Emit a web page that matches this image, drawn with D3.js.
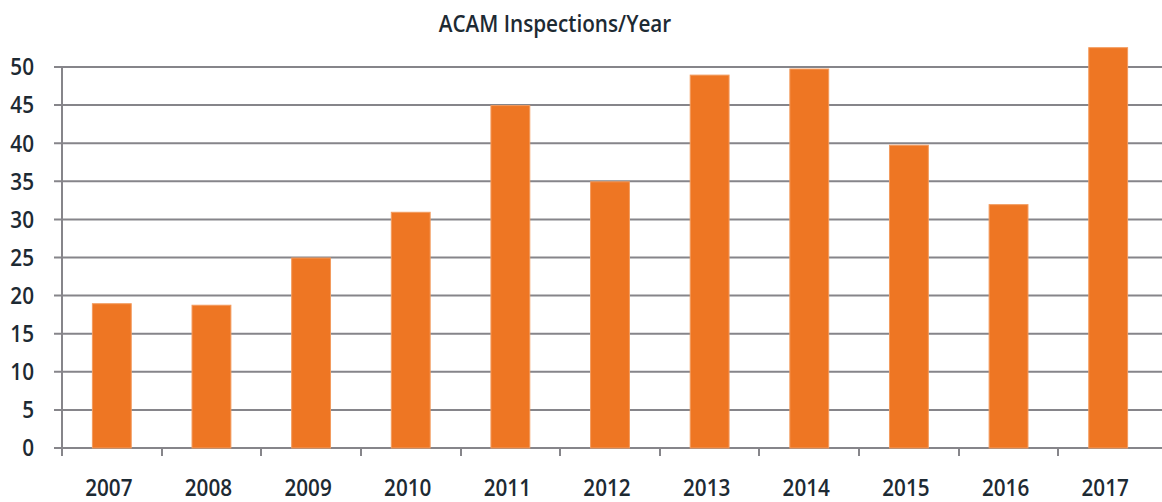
<!DOCTYPE html>
<html><head><meta charset="utf-8">
<script src="https://cdn.jsdelivr.net/npm/d3@7"></script>
<style>
html,body{margin:0;padding:0;background:#fff;}
svg{display:block;font-family:"Open Sans","Noto Sans",sans-serif;}
</style></head>
<body>
<svg id="chart" width="1162" height="502"></svg>
<script>
const years = ["2007","2008","2009","2010","2011","2012","2013","2014","2015","2016","2017"];
const inspections = [19, 18.8, 25, 31, 45, 35, 49, 49.8, 39.8, 32, 52.6];
const yTicks = [0,5,10,15,20,25,30,35,40,45,50];
const title = "ACAM Inspections/Year";

const svg = d3.select("#chart");
const left = 62, right = 1158, y0 = 448, yTop = 67;
const textColor = "#1d2a33";
const sx = 0.9;

const x = d3.scaleBand().domain(years).range([left, right]).paddingInner(0.6).paddingOuter(0.3);
const xStep = d3.scaleBand().domain(years).range([left, right]).padding(0);
const y = d3.scaleLinear().domain([0, 50]).range([y0, yTop]);

// gridlines
svg.append("g").selectAll("line").data(yTicks).join("line")
  .attr("x1", 54).attr("x2", 1162)
  .attr("y1", d => y(d)).attr("y2", d => y(d))
  .attr("stroke", "#86858a").attr("stroke-width", 2);

// y axis line
svg.append("line").attr("x1", left).attr("x2", left).attr("y1", yTop).attr("y2", 456)
  .attr("stroke", "#86858a").attr("stroke-width", 2);

// x ticks
svg.append("g").selectAll("line").data(years.slice(1)).join("line")
  .attr("x1", d => Math.round(xStep(d))).attr("x2", d => Math.round(xStep(d)))
  .attr("y1", y0).attr("y2", 456)
  .attr("stroke", "#86858a").attr("stroke-width", 2);

// bars
svg.append("g").selectAll("rect").data(years).join("rect")
  .attr("x", d => x(d) + 0.5)
  .attr("width", x.bandwidth() - 1)
  .attr("y", (d, i) => y(inspections[i]) + 0.5)
  .attr("height", (d, i) => y0 - y(inspections[i]) - 0.5)
  .attr("fill", "#ee7623")
  .attr("stroke", "#f39b5e").attr("stroke-width", 1);

function label(g, tx, ty, anchor, txt) {
  g.append("text")
    .attr("transform", `translate(${tx},${ty}) scale(${sx},1)`)
    .attr("text-anchor", anchor)
    .attr("font-size", 23).attr("font-weight", 600).attr("fill", textColor)
    .text(txt);
}

// y labels
const gy = svg.append("g");
yTicks.forEach(d => label(gy, 34, y(d) + 8.3, "end", d));

// x labels
const gx = svg.append("g");
years.forEach(d => label(gx, x(d) + x.bandwidth() / 2 - 3, 495.5, "middle", d));

// title
label(svg, 555, 32, "middle", title);
</script>
</body></html>
